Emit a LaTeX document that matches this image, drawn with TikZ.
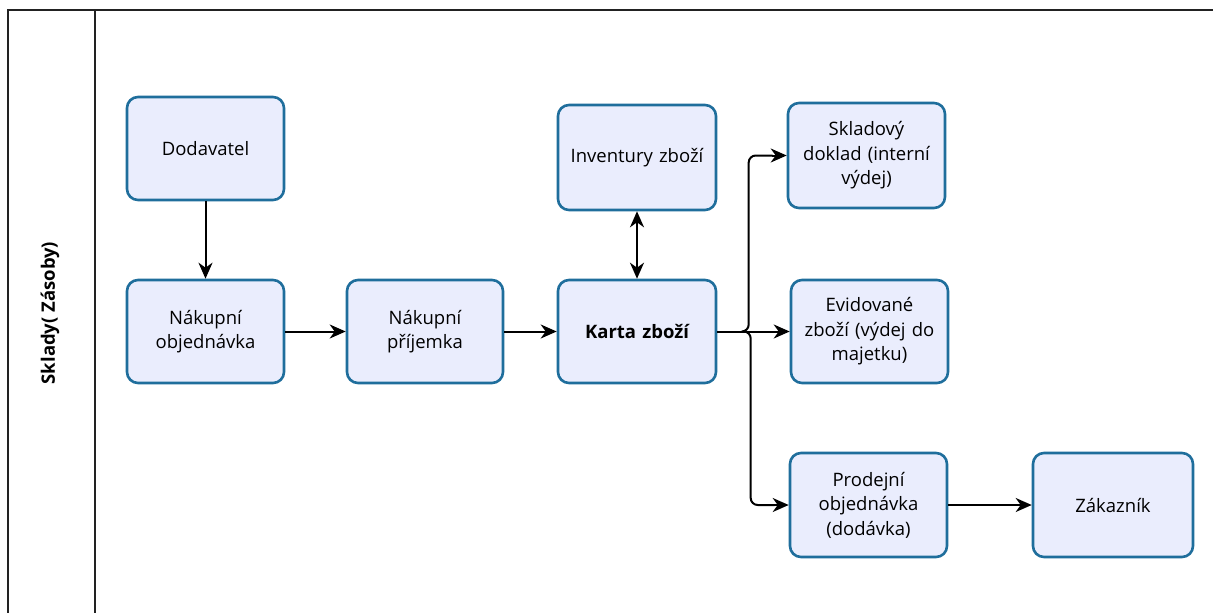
\documentclass[tikz,border=0pt]{standalone}
\usepackage{fontspec}
\setmainfont{Open Sans}
\usetikzlibrary{arrows.meta}
\definecolor{boxfill}{HTML}{EAEDFD}
\definecolor{boxline}{HTML}{1F6E9C}
\definecolor{frame}{HTML}{222222}
\tikzset{
  box/.style={draw=boxline, fill=boxfill, line width=2.6pt, rounded corners=11pt,
    align=center, text width=150pt, font=\fontsize{18.5}{24.5}\selectfont, inner sep=0pt},
  tip/.tip={Stealth[length=16pt,width=14pt,inset=5pt]},
  conn/.style={line width=2pt, -tip},
  plain/.style={line width=2pt},
}
\begin{document}
\begin{tikzpicture}[x=1pt,y=-1pt]
\useasboundingbox (0,0) rectangle (1213,613);
\fill[white] (0,0) rectangle (1213,613);
\draw[frame, line width=1.6pt] (8,613) -- (8,10) -- (1213,10);
\draw[frame, line width=1.6pt] (95,10) -- (95,613);
\node[rotate=90, font=\fontsize{18.5}{20}\selectfont\bfseries] (lane) at (50,313) {Sklady( Zásoby)};

\node[box, minimum width=157pt, minimum height=103pt] (dod) at (205.5,148.5) {Dodavatel};
\node[box, minimum width=157pt, minimum height=103pt] (nobj) at (205.5,331.5) {Nákupní\\objednávka};
\node[box, minimum width=156pt, minimum height=103pt] (npri) at (425,331.5) {Nákupní\\příjemka};
\node[box, minimum width=158pt, minimum height=103pt, font=\fontsize{18.5}{24.5}\selectfont\bfseries] (karta) at (637,331.5) {Karta zboží};
\node[box, minimum width=158pt, minimum height=105pt] (inv) at (637,157.5) {Inventury zboží};
\node[box, minimum width=157pt, minimum height=105pt] (skl) at (866.5,155.5) {Skladový\\doklad (interní\\výdej)};
\node[box, minimum width=157pt, minimum height=103pt] (evid) at (869.5,331.5) {Evidované\\zboží (výdej do\\majetku)};
\node[box, minimum width=157pt, minimum height=104pt] (prod) at (868.5,505) {Prodejní\\objednávka\\(dodávka)};
\node[box, minimum width=160pt, minimum height=104pt] (zak) at (1113,505) {Zákazník};

\draw[conn] (dod) -- (nobj);
\draw[conn] (nobj) -- (npri);
\draw[conn] (npri) -- (karta);
\draw[line width=2pt, tip-tip] (karta) -- (inv);
\draw[conn] (karta) -- (evid);
\coordinate (br) at (745,331.5);
\draw[plain, rounded corners=7pt] (br) -| ([xshift=-38pt]skl.west) -- ([xshift=-14pt]skl.west);
\draw[conn] ([xshift=-15pt]skl.west) -- (skl.west);
\draw[plain, rounded corners=7pt] (br) -| ([xshift=-38pt]prod.west) -- ([xshift=-14pt]prod.west);
\draw[conn] ([xshift=-15pt]prod.west) -- (prod.west);
\draw[conn] (prod) -- (zak);
\end{tikzpicture}
\end{document}
